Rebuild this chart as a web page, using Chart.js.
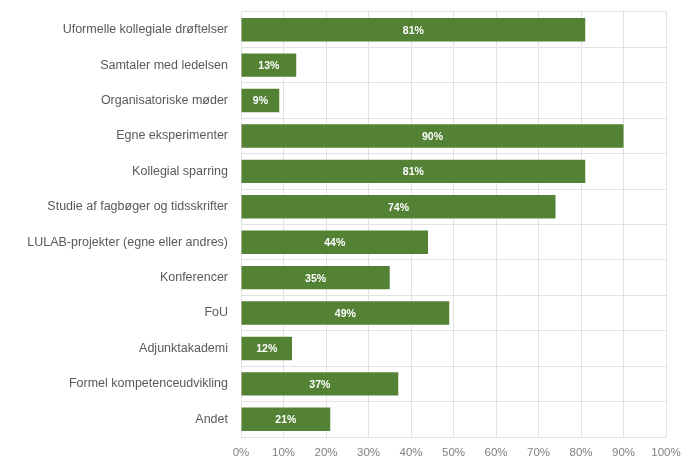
<!DOCTYPE html>
<html>
<head>
<meta charset="utf-8">
<script src="https://cdn.jsdelivr.net/npm/chart.js@4/dist/chart.umd.min.js"></script>
<style>
  html, body { margin: 0; padding: 0; background: #fff; }
  #wrap { width: 682px; height: 461px; }
</style>
</head>
<body>
<div id="wrap"><canvas id="myChart" width="682" height="461"></canvas></div>
<script>
const categories = [
  'Uformelle kollegiale drøftelser',
  'Samtaler med ledelsen',
  'Organisatoriske møder',
  'Egne eksperimenter',
  'Kollegial sparring',
  'Studie af fagbøger og tidsskrifter',
  'LULAB-projekter (egne eller andres)',
  'Konferencer',
  'FoU',
  'Adjunktakademi',
  'Formel kompetenceudvikling',
  'Andet'
];
const shares = [81, 13, 9, 90, 81, 74, 44, 35, 49, 12, 37, 21];
const tickValues = [0, 10, 20, 30, 40, 50, 60, 70, 80, 90, 100];

// draw value labels in the middle of each bar
const barLabels = {
  id: 'barLabels',
  afterDatasetsDraw(chart) {
    let ctx = chart.ctx;
    let meta = chart.getDatasetMeta(0);
    ctx.save();
    ctx.fillStyle = '#ffffff';
    ctx.font = 'bold 10.5px "Liberation Sans", sans-serif';
    ctx.textAlign = 'center';
    ctx.textBaseline = 'middle';
    meta.data.forEach((bar, i) => {
      let p = bar.getProps(['x', 'y', 'base'], true);
      ctx.fillText(shares[i] + '%', (p.x + p.base) / 2, p.y + 1);
    });
    ctx.restore();
  }
};

let ctx = document.getElementById('myChart');
let myChart = new Chart(ctx, {
  type: 'bar',
  data: {
    labels: categories,
    datasets: [{
      data: shares,
      backgroundColor: '#548235',
      borderWidth: 0,
      categoryPercentage: 1,
      barPercentage: 0.66
    }]
  },
  options: {
    indexAxis: 'y',
    responsive: false,
    animation: false,
    layout: { padding: { top: 12, right: 16, bottom: 0, left: 0 } },
    plugins: {
      legend: { display: false },
      tooltip: { enabled: false }
    },
    scales: {
      x: {
        min: 0,
        max: 100,
        afterBuildTicks(scale) {
          scale.ticks = tickValues.map(v => ({ value: v }));
        },
        afterFit(scale) {
          scale.paddingLeft = 0;
          scale.paddingRight = 0;
          scale.height = 24;
        },
        ticks: {
          color: '#7f7f7f',
          font: { family: 'Liberation Sans', size: 11.5 },
          padding: 9,
          callback: v => v + '%'
        },
        grid: { color: '#e2e2e2', drawTicks: false },
        border: { display: false }
      },
      y: {
        afterFit(scale) {
          scale.width = 241;
          scale.paddingTop = 0;
          scale.paddingBottom = 0;
        },
        ticks: {
          color: '#595959',
          font: { family: 'Liberation Sans', size: 12.5 },
          padding: 13,
          autoSkip: false
        },
        grid: { color: '#e2e2e2', drawTicks: false, offset: true },
        border: { color: '#e2e2e2' }
      }
    }
  },
  plugins: [barLabels]
});
</script>
</body>
</html>
